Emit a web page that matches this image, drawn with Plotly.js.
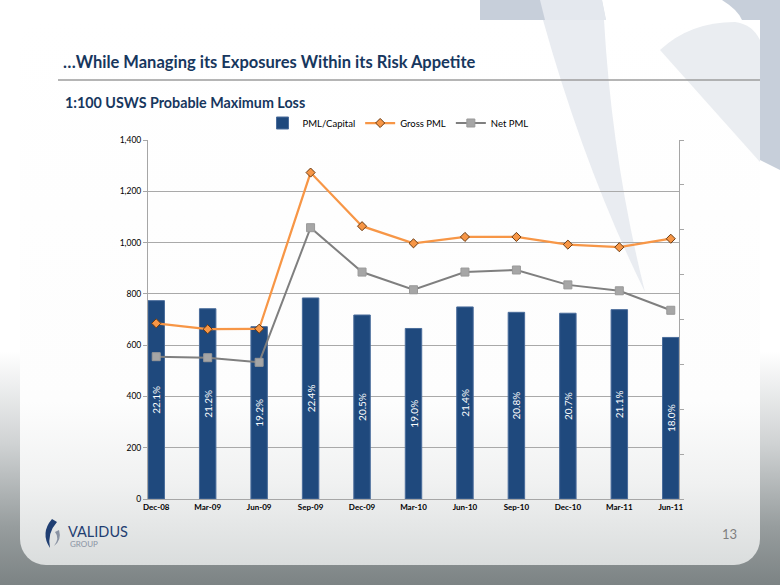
<!DOCTYPE html>
<html>
<head>
<meta charset="utf-8">
<script src="https://cdn.plot.ly/plotly-3.0.1.min.js"></script>
<style>
  html, body { margin:0; padding:0; width:780px; height:585px; overflow:hidden; }
  body { position:relative;
         background: linear-gradient(to bottom, #ffffff 0%, #ffffff 60%, #cfd2d3 76%, #979d9e 90%, #7c8384 100%); }
  #topdeco { position:absolute; left:0; top:0; z-index:0; }
  #panel { position:absolute; left:20px; top:20px; width:740px; height:545px; border-radius:26px;
           background: linear-gradient(to bottom, #ffffff 0%, #fdfdfd 70%, #f0f1f1 85%, #dadddd 100%);
           z-index:1; }
  #deco { position:absolute; left:0; top:0; z-index:2; }
  #chart { position:absolute; left:0; top:0; width:780px; height:585px; z-index:3; }
</style>
</head>
<body>
<svg id="topdeco" width="780" height="585" viewBox="0 0 780 585">
  <path d="M480,0 H780 V170 L760,160 V20 H480 Z" fill="#c7cfda"/>
  <path d="M540,0 L602,0 L606,20 L545,20 Z" fill="#e4e8ee"/>
  <path d="M602,0 L722,0 Q738,10 742,20 L606,20 Z" fill="#ffffff"/>
</svg>
<div id="panel"></div>
<svg id="deco" width="780" height="585" viewBox="0 0 780 585">
  <path d="M543,20 L604,20 Q612,160 645,292 Q585,170 543,20 Z" fill="#e9ecf1"/>
  <path d="M660,50 Q690,22 735,22 Q752,24 760,40 L760,162 Z" fill="#eaedf1"/>
  <path d="M52,519 Q40,533 50,548 Q47,533 57,522 Z" fill="#1f3e72"/>
  <path d="M55,532 Q60,538 54,546 Q62,540 59,530 Z" fill="#8a93a3"/>
</svg>
<div id="chart"></div>
<script>
// ---- data ----
const categories = ['Dec-08','Mar-09','Jun-09','Sep-09','Dec-09','Mar-10','Jun-10','Sep-10','Dec-10','Mar-11','Jun-11'];
const pmlCapital = [22.1, 21.2, 19.2, 22.4, 20.5, 19.0, 21.4, 20.8, 20.7, 21.1, 18.0];
const grossPML   = [685, 662, 664, 1273, 1064, 997, 1022, 1022, 992, 982, 1015];
const netPML     = [555, 551, 533, 1058, 885, 816, 885, 893, 835, 812, 736];
const yTickVals  = [0, 200, 400, 600, 800, 1000, 1200, 1400];
const yTickText  = ['0', '200', '400', '600', '800', '1,000', '1,200', '1,400'];

// ---- layout helpers (pixel -> paper) ----
const L = 148, R = 679, T = 140, B = 499;
const px = X => (X - L) / (R - L);
const py = Y => (B - Y) / (B - T);

const FONT = 'Lato, "Open Sans", sans-serif';
const NAVY = '#17375e';

const traces = [
  {
    type: 'bar', name: 'PML/Capital', x: categories, y: pmlCapital,
    yaxis: 'y', width: 0.32,
    marker: { color: '#1f497d', line: { color: '#4a6c9b', width: 1 } },
    text: pmlCapital.map(v => v.toFixed(1) + '%'),
    textposition: 'inside', insidetextanchor: 'middle', textangle: -90,
    constraintext: 'none',
    textfont: { color: '#ffffff', size: 10, family: FONT },
    hoverinfo: 'skip'
  },
  {
    type: 'scatter', mode: 'lines+markers', name: 'Gross PML', x: categories, y: grossPML,
    yaxis: 'y2',
    line: { color: '#f79646', width: 2.25 },
    marker: { symbol: 'diamond', size: 7, color: '#f79646', line: { color: '#6b3a10', width: 1 } },
    hoverinfo: 'skip'
  },
  {
    type: 'scatter', mode: 'lines+markers', name: 'Net PML', x: categories, y: netPML,
    yaxis: 'y2',
    line: { color: '#7f7f7f', width: 2 },
    marker: { symbol: 'square', size: 8, color: '#a6a6a6', line: { color: '#999999', width: 1 } },
    hoverinfo: 'skip'
  }
];

const layout = {
  width: 780, height: 585,
  margin: { l: L, r: 780 - R, t: T, b: 585 - B, pad: 0 },
  paper_bgcolor: 'rgba(0,0,0,0)', plot_bgcolor: 'rgba(0,0,0,0)',
  font: { family: FONT, color: '#000000' },
  showlegend: true,
  title: {
    text: '<b>…While Managing its Exposures Within its Risk Appetite</b>',
    xref: 'container', yref: 'container',
    x: 63 / 780, xanchor: 'left', y: 1 - 62 / 585, yanchor: 'middle',
    font: { family: FONT, size: 16.5, color: NAVY }
  },
  legend: {
    orientation: 'h', x: px(398), xanchor: 'center', y: py(123), yanchor: 'middle',
    font: { family: FONT, size: 9.5, color: '#000000' },
    bgcolor: 'rgba(0,0,0,0)', traceorder: 'normal', itemwidth: 30
  },
  xaxis: {
    type: 'category', range: [-0.16, 10.16],
    showline: true, linecolor: '#a6a6a6', linewidth: 1,
    ticks: '', showgrid: false,
    tickfont: { family: FONT, size: 8, color: '#000000', weight: 'bold' }
  },
  yaxis: {
    range: [0, 40], dtick: 5, side: 'right', showticklabels: false,
    showgrid: false, zeroline: false,
    showline: true, linecolor: '#a6a6a6', linewidth: 1,
    ticks: 'outside', ticklen: 4, tickcolor: '#a6a6a6'
  },
  yaxis2: {
    overlaying: 'y', side: 'left', range: [0, 1400],
    tickvals: yTickVals, ticktext: yTickText,
    showgrid: true, gridcolor: '#a9a9a9', gridwidth: 1, zeroline: false,
    showline: true, linecolor: '#a6a6a6', linewidth: 1,
    ticks: 'outside', ticklen: 4, tickcolor: '#a6a6a6',
    tickfont: { family: FONT, size: 8.5, color: '#000000' }
  },
  shapes: [
    { type: 'line', xref: 'paper', yref: 'paper', x0: px(58), x1: px(760), y0: py(80), y1: py(80),
      line: { color: '#9c9c9c', width: 1.5 } }
  ],
  annotations: [
    { text: '<b>1:100 USWS Probable Maximum Loss</b>', xref: 'paper', yref: 'paper',
      x: px(63), y: py(102), xanchor: 'left', yanchor: 'middle', showarrow: false,
      font: { family: FONT, size: 14.3, color: NAVY } },
    { text: '13', xref: 'paper', yref: 'paper', x: px(730), y: py(534),
      xanchor: 'center', yanchor: 'middle', showarrow: false,
      font: { family: FONT, size: 13, color: '#7f7f7f' } },
    { text: 'VALIDUS', xref: 'paper', yref: 'paper', x: px(66), y: py(531),
      xanchor: 'left', yanchor: 'middle', showarrow: false,
      font: { family: FONT, size: 14.5, color: '#1f3e72' } },
    { text: 'GROUP', xref: 'paper', yref: 'paper', x: px(68), y: py(544),
      xanchor: 'left', yanchor: 'middle', showarrow: false,
      font: { family: FONT, size: 8, color: '#8a93a3' } }
  ]
};

Plotly.newPlot('chart', traces, layout, { displayModeBar: false, staticPlot: true });
</script>
</body>
</html>
